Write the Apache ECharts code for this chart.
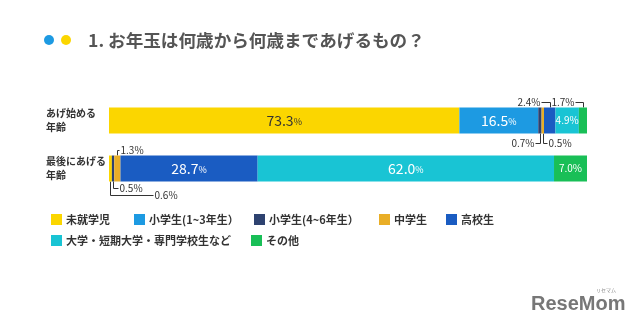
<!DOCTYPE html>
<html><head><meta charset="utf-8">
<script src="https://cdn.jsdelivr.net/npm/echarts@6/dist/echarts.min.js"></script>
<style>html,body{margin:0;padding:0;background:#fff}#c{width:640px;height:332px}</style>
</head><body><div id="c"></div>
<script>
// ---- data ----
const categories = ['あげ始める\n年齢', '最後にあげる\n年齢'];
const seriesNames = ['未就学児', '小学生(1~3年生）', '小学生(4~6年生）', '中学生', '高校生', '大学・短期大学・専門学校生など', 'その他'];
const preschool = [73.3, 0.6];
const elem13 = [16.5, 0];
const elem46 = [0.7, 0.5];
const junior = [0.5, 1.3];
const high = [2.4, 28.7];
const univ = [4.9, 62.0];
const other = [1.7, 7.0];
const values = [preschool, elem13, elem46, junior, high, univ, other];
const titleText = '1. お年玉は何歳から何歳まであげるもの？';

// ---- style ----
const colors = ['#fbd600', '#1d9ae2', '#2e4270', '#e9ae27', '#1a5cc2', '#19c4d4', '#19bf57'];
const FONT = '"Noto Sans CJK JP", "Noto Sans", sans-serif';
const BAR = 26;
const legendPos = [[46, 209], [129, 209], [249, 209], [374, 209], [441, 209], [46, 230], [246, 230]];
const callouts = [
  {s: 4, c: 0, side: 'top', rise: 6, run: -9},
  {s: 6, c: 0, side: 'top', rise: 6, run: -8},
  {s: 2, c: 0, side: 'bottom', rise: 9, run: -5},
  {s: 3, c: 0, side: 'bottom', rise: 9, run: 4},
  {s: 3, c: 1, side: 'top', rise: 6, run: 2},
  {s: 2, c: 1, side: 'bottom', rise: 6, run: 5},
  {s: 0, c: 1, side: 'bottom', rise: 13, run: 43}
];

const chart = echarts.init(document.getElementById('c'), null, {renderer: 'canvas'});

function fmt(p) {
  const v = p.value;
  if (v >= 10) return '{v|' + v.toFixed(1) + '}{p|%}';
  if (v >= 4) return '{s|' + v.toFixed(1) + '%}';
  return '';
}

const series = seriesNames.map((n, i) => ({
  name: n, type: 'bar', stack: 'all', barWidth: BAR,
  data: values[i],
  itemStyle: {color: colors[i]},
  label: {
    show: true, position: 'inside', formatter: fmt,
    color: i === 0 ? '#333' : '#fff', fontFamily: FONT,
    rich: {v: {fontSize: 14, fontFamily: FONT}, p: {fontSize: 9, fontFamily: FONT, padding: [3, 0, 0, 0]}, s: {fontSize: 10, fontFamily: FONT}}
  },
  emphasis: {disabled: true},
  animation: false
}));

const legends = seriesNames.map((n, i) => ({
  data: [n], left: legendPos[i][0], top: legendPos[i][1],
  itemWidth: 11, itemHeight: 11, itemGap: 0, icon: 'rect', selectedMode: false,
  textStyle: {fontSize: 11, fontWeight: 'bold', color: '#333', fontFamily: FONT, padding: [0, 0, 0, -1]}
}));

chart.setOption({
  animation: false,
  backgroundColor: '#fff',
  title: {text: titleText, left: 88, top: 30, padding: 0,
    textStyle: {fontSize: 17.6, fontWeight: 'bold', color: '#555', fontFamily: FONT, lineHeight: 20}},
  legend: legends,
  grid: {left: 109, right: 53, top: 96.5, height: 96},
  xAxis: {type: 'value', min: 0, max: 100, show: false},
  yAxis: {type: 'category', data: categories, inverse: true,
    axisLine: {show: false}, axisTick: {show: false},
    axisLabel: {align: 'left', margin: 63, fontSize: 10, fontWeight: 'bold', color: '#333', lineHeight: 14, fontFamily: FONT}},
  series: series
});

// ---- callouts from data through the axes ----
const g = [
  {type: 'circle', shape: {cx: 49, cy: 40, r: 5}, style: {fill: '#1d9ae2'}},
  {type: 'circle', shape: {cx: 66, cy: 40, r: 5}, style: {fill: '#fbd600'}},
  {type: 'text', left: 531, top: 294, style: {text: 'ReseMom', font: 'bold 20px "Liberation Sans", Arial, sans-serif', fill: '#777'}},
  {type: 'text', left: 596, top: 288, style: {text: 'リセマム', font: '5px ' + FONT, fill: '#888'}}
];
callouts.forEach(co => {
  let start = 0;
  for (let k = 0; k < co.s; k++) start += values[k][co.c];
  const v = values[co.s][co.c];
  const pt = chart.convertToPixel({gridIndex: 0}, [start + v / 2, co.c]);
  const x = Math.round(pt[0]) + 0.5;
  const edge = co.side === 'top' ? pt[1] - BAR / 2 : pt[1] + BAR / 2;
  const ly = Math.round(co.side === 'top' ? edge - co.rise : edge + co.rise) + 0.5;
  const x2 = x + co.run;
  g.push({type: 'polyline', shape: {points: [[x, edge], [x, ly], [x2, ly]]},
    style: {stroke: '#333', lineWidth: 1, fill: null}, silent: true});
  g.push({type: 'text', x: x2 + (co.run > 0 ? 1 : -1), y: ly,
    style: {text: v.toFixed(1) + '%', font: '10px ' + FONT, fill: '#333',
      align: co.run > 0 ? 'left' : 'right', verticalAlign: 'middle'}, silent: true});
});
chart.setOption({graphic: g});
</script>
</body></html>
